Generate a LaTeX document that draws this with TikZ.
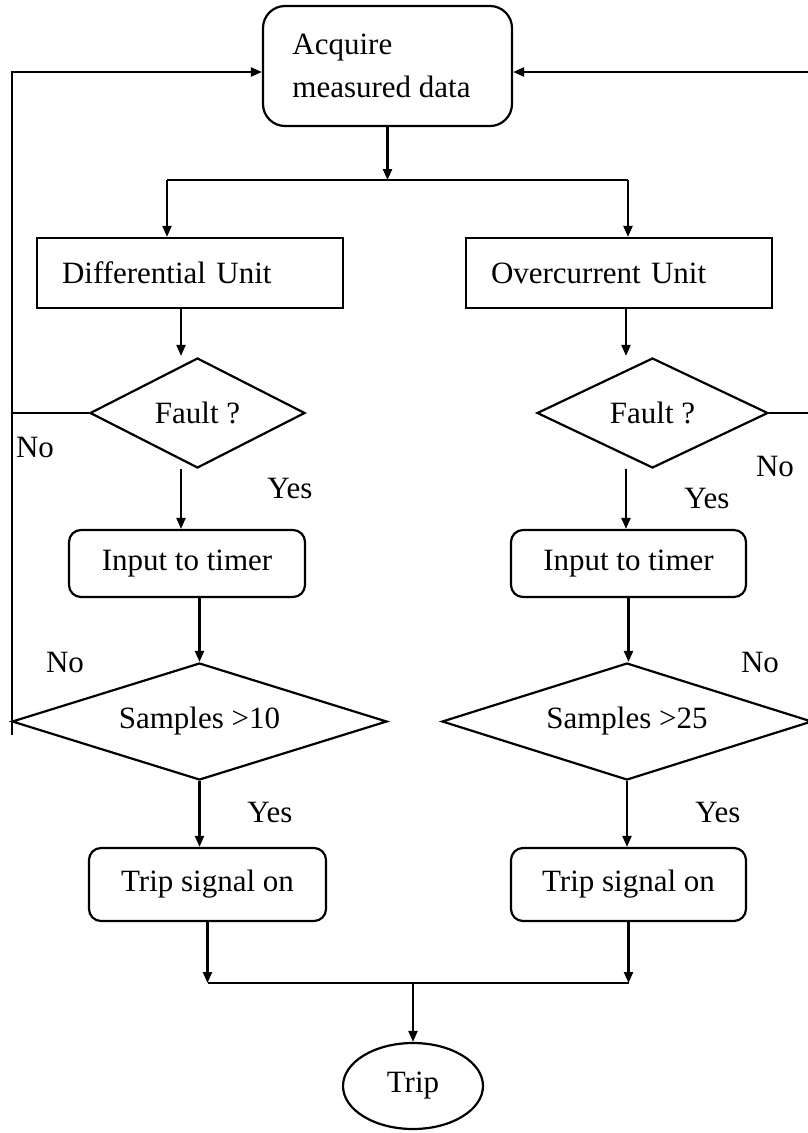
\documentclass[tikz,border=0pt]{standalone}
\usepackage{fontspec}
\setmainfont{Liberation Serif}
\usetikzlibrary{shapes.geometric,arrows.meta}
\begin{document}
\begin{tikzpicture}[x=1pt,y=-1pt,
  every node/.style={font=\fontsize{31}{43}\selectfont, inner sep=0pt},
  flow/.style={line width=2.2pt},
  arr/.style={flow,-{Triangle[length=11pt,width=9pt]}},
  startbox/.style={draw, line width=2.2pt, rectangle, rounded corners=22pt, align=left},
  unitbox/.style={draw, line width=2.2pt, rectangle, text width=256pt, align=left,
    inner xsep=25pt, minimum height=70pt},
  procbox/.style={draw, line width=2.2pt, rectangle, rounded corners=12pt},
  decision/.style={draw, line width=2.2pt, diamond, aspect=3},
  endnode/.style={draw, line width=2.2pt, ellipse}
]
\useasboundingbox (0,0) rectangle (807,1133);

% blocks
\node[startbox, minimum width=249pt, minimum height=120pt] (acq) at (387.5,66) {\hspace*{-12pt}Acquire\\\hspace*{-12pt}measured data};
\node[unitbox] (dunit) at (190,273) {Differential Unit};
\node[unitbox] (ounit) at (619,273) {Overcurrent Unit};
\node[decision, minimum width=215pt, minimum height=110pt] (dfault) at (197.5,413) {Fault ?};
\node[decision, minimum width=231pt, minimum height=110pt] (ofault) at (652.5,413) {Fault ?};
\node[procbox, minimum width=236pt, minimum height=67pt] (dtimer) at (187,563.5) {Input to timer};
\node[procbox, minimum width=235pt, minimum height=67pt] (otimer) at (628.5,563.5) {Input to timer};
\node[decision, minimum width=375pt, minimum height=117pt] (dsamp) at (199.5,721.5) {Samples >10};
\node[decision, minimum width=370pt, minimum height=117pt] (osamp) at (627,721.5) {Samples >25};
\node[procbox, minimum width=237pt, minimum height=73pt] (dtrip) at (207.5,884.5) {Trip signal on};
\node[procbox, minimum width=235pt, minimum height=73pt] (otrip) at (628.5,884.5) {Trip signal on};
\node[endnode, minimum width=140pt, minimum height=86pt] (trip) at (413,1086) {Trip};

% branch labels
\node (no1) at (35,447) {No};
\node (yes1) at (290,488) {Yes};
\node (no2) at (775,466) {No};
\node (yes2) at (707,498) {Yes};
\node (no3) at (65,662) {No};
\node (yes3) at (270,812) {Yes};
\node (no4) at (760,662) {No};
\node (yes4) at (718,812) {Yes};

% routing points
\coordinate (spl) at (167,180);
\coordinate (spr) at (628,180);
\coordinate (dcol) at (181,0);
\coordinate (ocol) at (626,0);
\coordinate (mrg) at (413,983);
\coordinate (lloop) at (12,72);
\coordinate (lend) at (12,735);
\coordinate (rloop) at (813,72);

% main flow
\draw[arr] (acq.south) -- (acq.south |- spl);
\draw[flow] (spl) -- (spr);
\draw[arr] (spl) -- (spl |- dunit.north);
\draw[arr] (spr) -- (spr |- ounit.north);
\draw[arr] (dunit.south -| dcol) -- ([yshift=1pt]dcol |- dfault.north);
\draw[arr] (ounit.south -| ocol) -- ([yshift=1pt]ocol |- ofault.north);
\draw[arr] (dfault.south -| dcol) -- (dcol |- dtimer.north);
\draw[arr] (ofault.south -| ocol) -- (ocol |- otimer.north);
\draw[arr] (dsamp.north |- dtimer.south) -- (dsamp.north);
\draw[arr] (otimer.south) -- (otimer.south |- osamp.north);
\draw[arr] (dsamp.south) -- (dsamp.south |- dtrip.north);
\draw[arr] (osamp.south) -- (osamp.south |- otrip.north);
\draw[arr] (dtrip.south) -- (dtrip.south |- mrg);
\draw[arr] (otrip.south) -- (otrip.south |- mrg);
\draw[flow] (dtrip.south |- mrg) -- (otrip.south |- mrg);
\draw[arr] (mrg) -- (trip.north);

% "No" return paths
\draw[arr] (lend) -- (lloop) -- (lloop -| acq.west);
\draw[flow] (dfault.west) -- (dfault.west -| lloop);
\draw[arr] (osamp.east -| rloop) -- (rloop) -- (rloop -| acq.east);
\draw[flow] (ofault.east) -- (ofault.east -| rloop);
\end{tikzpicture}
\end{document}
